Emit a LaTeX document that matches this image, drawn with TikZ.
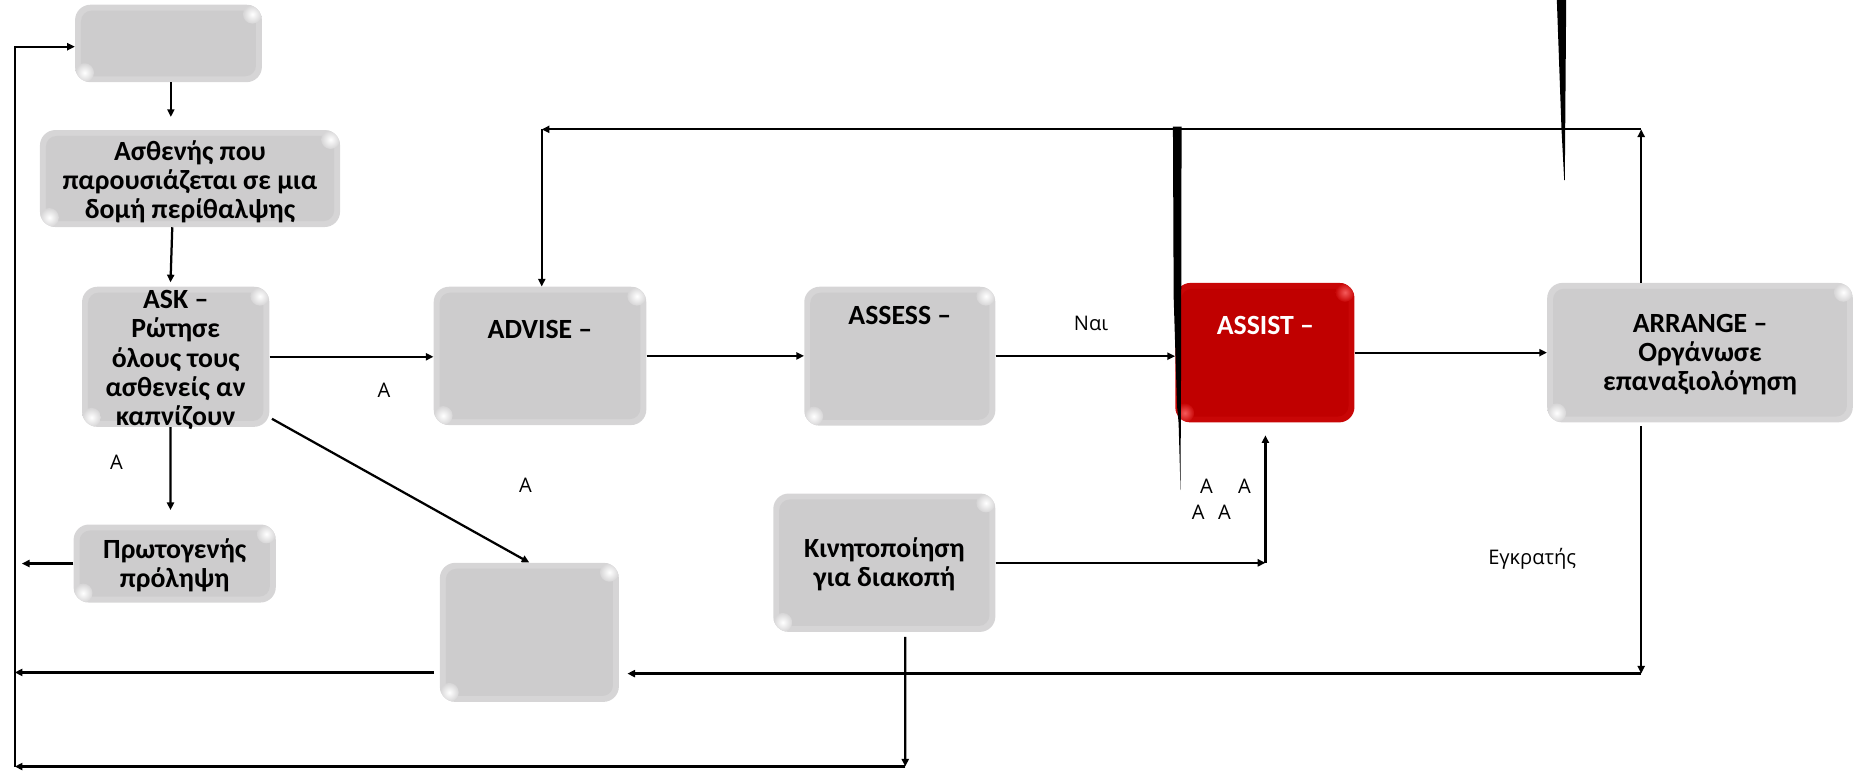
\documentclass[tikz,border=0pt]{standalone}
\usepackage{fontspec}
\setmainfont{Carlito}
\newfontfamily\lblfont{Open Sans}
\usetikzlibrary{arrows.meta}
\definecolor{boxgray}{RGB}{205,204,205}
\definecolor{boxedge}{RGB}{214,213,214}
\definecolor{boxred}{RGB}{192,0,0}
\definecolor{rededge}{RGB}{200,6,6}
\definecolor{redhi}{RGB}{245,90,90}
\tikzset{
  boxbase/.style n args={3}{rectangle, rounded corners=13pt, inner sep=0pt, fill=#1,
    path picture={
      \fill[#2, rounded corners=9pt] ([shift={(5pt,-5pt)}]path picture bounding box.north west) rectangle ([shift={(-5pt,5pt)}]path picture bounding box.south east);
      \shade[inner color=#3, outer color=#1] ([shift={(-8pt,-8pt)}]path picture bounding box.north east) circle (8pt);
      \shade[inner color=#3, outer color=#1] ([shift={(8pt,8pt)}]path picture bounding box.south west) circle (8pt);
    }},
  gbox/.style={boxbase={boxedge}{boxgray}{white}},
  rbox/.style={boxbase={rededge}{boxred}{redhi}},
  btxt/.style={font=\bfseries\fontsize{23.5}{24.7}\selectfont, align=center, inner sep=0pt},
  lbl/.style={font=\lblfont\fontsize{17}{20}\selectfont, inner sep=0pt},
  arr/.style={draw, line width=1.9pt, -{Triangle[length=6.5pt,width=6pt]}},
}
\begin{document}
\begin{tikzpicture}[x=1pt,y=-1pt]
\useasboundingbox (0,0) rectangle (1568,652);
% boxes
\node[gbox, minimum width=158pt, minimum height=65.5pt] (top) at (142.5,36.75) {};
\node[gbox, minimum width=253.8pt, minimum height=82pt] (asth) at (160.7,151) {};
\node[gbox, minimum width=158.4pt, minimum height=118.5pt] (ask) at (148.6,301.75) {};
\node[gbox, minimum width=179.8pt, minimum height=117pt] (advise) at (456.7,301) {};
\node[gbox, minimum width=161.6pt, minimum height=117.5pt] (assess) at (761,301.25) {};
\node[rbox, minimum width=151.5pt, minimum height=118pt] (assist) at (1069.75,298.25) {};
\node[gbox, minimum width=258.5pt, minimum height=118pt] (arrange) at (1437.75,298.25) {};
\node[gbox, minimum width=171pt, minimum height=66pt] (proto) at (147.75,476.6) {};
\node[gbox, minimum width=151.4pt, minimum height=117.6pt] (empty) at (447.7,534.8) {};
\node[gbox, minimum width=187.8pt, minimum height=117pt] (kin) at (747.9,475.9) {};
% texts
\node[btxt] (asthtxt) at (160.7,153.7) {Ασθενής που\\παρουσιάζεται σε μια\\δομή περίθαλψης};
\node[btxt] (asktxt) at (148.6,304.5) {ASK –\\Ρώτησε\\όλους τους\\ασθενείς αν\\καπνίζουν};
\node[btxt] (advtxt) at (456.7,279) {ADVISE –};
\node[btxt] (asstxt) at (761,266.5) {ASSESS –};
\node[btxt, text=white] (asitxt) at (1070.2,275) {ASSIST –};
\node[btxt] (arrtxt) at (1437.8,300) {ARRANGE –\\Οργάνωσε\\επαναξιολόγηση};
\node[btxt] (prototxt) at (147.75,478) {Πρωτογενής\\πρόληψη};
\node[btxt] (kintxt) at (747.9,477) {Κινητοποίηση\\για διακοπή};
% coordinates
\coordinate (tl) at (12.5,39.5);
\coordinate (bl) at (12.5,648.3);
\coordinate (bm) at (765.6,648.3);
\coordinate (topR) at (1388,109.4);
\coordinate (topL) at (458.2,109.4);
\coordinate (botR) at (1388,569.7);
\coordinate (kinR) at (1070.2,476);
\coordinate (protoL) at (18.5,476.6);
\coordinate (emptyL) at (12.5,568.7);
% connectors
\draw[arr] ([xshift=2pt]top.south) -- ++(0,29.2);
\draw[arr] ([xshift=-15pt]asth.south) -- ([xshift=-4.4pt,yshift=3.5pt]ask.north);
\draw[arr] (ask.east) -- (ask.east -| advise.west);
\draw[arr] (advise.east) -- (advise.east -| assess.west);
\draw[arr] (assess.east) -- (assess.east -| assist.west);
\draw[arr] (assist.east) -- (assist.east -| arrange.west);
\draw[arr] (arrange.north -| topR) -- (topR);
\draw[arr] (topR) -- (topL);
\draw[arr] (topL) -- (topL |- advise.north);
\draw[arr] ([xshift=-4.4pt]ask.south) -- ([xshift=-3.55pt,yshift=12pt]proto.north);
\draw[arr] ([xshift=2pt,yshift=7pt]ask.south east) -- (empty.north);
\draw[arr] (proto.west) -- (protoL);
\draw[arr] (empty.west |- emptyL) ++(-5,0) -- (emptyL);
\draw[arr] (arrange.south -| botR) ++(0,3) -- (botR);
\draw[arr, shorten >=7pt] (botR) -- (botR -| empty.east);
\draw[arr] (kin.east |- kinR) -- (kinR);
\draw[arr, shorten >=10.7pt] (kinR) -- (kinR |- assist.south);
\draw[arr] ([xshift=17.7pt]kin.south) ++(0,4) -- (bm);
\draw[arr] (bm) -- (bl);
\draw[arr] (bl) -- (tl) -- (tl -| top.west);
% labels
\node[lbl] (la1) at (324.7,330) {Α};
\node[lbl] (la2) at (98.6,390.6) {Α};
\node[lbl] (la3) at (444.4,410.3) {Α};
\node[lbl] (la4) at (1020.3,411.7) {Α};
\node[lbl] (la5) at (1052.5,411.7) {Α};
\node[lbl] (la6) at (1013.3,432.9) {Α};
\node[lbl] (la7) at (1035.5,432.9) {Α};
\node[lbl] (lnai) at (922.7,273.5) {Ναι};
\node[lbl] (legk) at (1295.8,472.3) {Εγκρατής};
% stray wedge marks
\fill[black] (992,107) -- (999.3,107) -- (998.9,300) -- (998.4,414.5) -- (996.8,358) -- (995.5,344) -- (992.6,251) -- cycle;
\fill[black] (1316.6,-2) -- (1324.6,-2) -- (1323.4,152.3) -- (1322.9,152.3) -- (1320.6,109) -- cycle;
\end{tikzpicture}
\end{document}
